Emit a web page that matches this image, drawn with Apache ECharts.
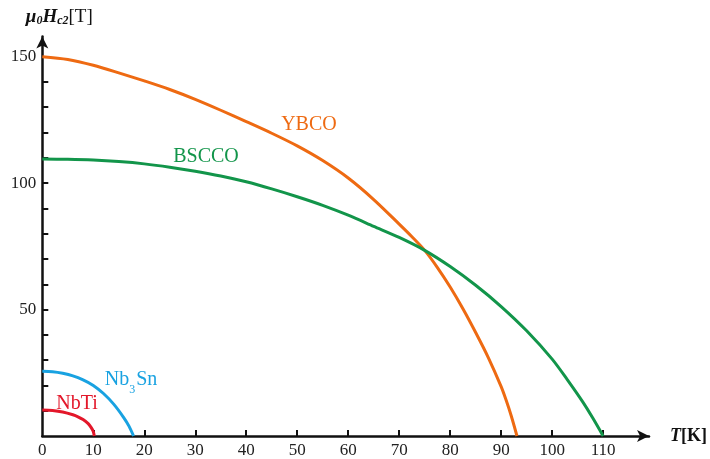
<!DOCTYPE html>
<html>
<head>
<meta charset="utf-8">
<script src="https://cdn.jsdelivr.net/npm/echarts@6/dist/echarts.min.js"></script>
<style>
html,body{margin:0;padding:0;background:#fff;}
#chart{width:710px;height:459px;}
</style>
</head>
<body>
<div id="chart"></div>
<script>
// ---- data (T in K, upper critical field in T) ----
const ybcoT  = [0, 5, 10, 15, 20, 25, 30, 35, 40, 45, 50, 55, 60, 65, 70, 72.5, 75, 77.5, 80, 82.5, 85, 87.5, 90, 91, 92, 93.1];
const ybcoH  = [150, 148.9, 146.6, 143.6, 140.4, 137.0, 133.1, 128.8, 124.3, 119.7, 114.7, 108.9, 102.0, 93.5, 83.8, 78.8, 73.4, 66.6, 58.9, 50.3, 40.9, 30.9, 19.5, 14.0, 7.8, 0];

const bsccoT = [0, 5, 10, 15, 20, 25, 30, 35, 40, 45, 50, 55, 60, 65, 70, 75, 80, 85, 90, 95, 100, 103, 106, 108, 110];
const bsccoH = [109.5, 109.4, 109.1, 108.5, 107.6, 106.3, 104.7, 102.8, 100.5, 97.7, 94.6, 91.2, 87.3, 82.9, 78.5, 73.4, 67.0, 59.6, 51.2, 41.6, 30.4, 22.2, 13.5, 7.0, 0];

const nb3snT = [0, 2, 4, 6, 8, 10, 12, 14, 16, 17, 17.9];
const nb3snH = [25.6, 25.4, 24.8, 23.8, 22.2, 20.0, 16.8, 12.6, 7.2, 3.9, 0];

const nbtiT  = [0, 2, 4, 6, 7, 8, 9, 9.6, 10, 10.2];
const nbtiH  = [10.3, 10.1, 9.5, 8.4, 7.6, 6.5, 4.9, 3.3, 1.8, 0];

const xTickValues  = [10, 20, 30, 40, 50, 60, 70, 80, 90, 100, 110];
const xLabelValues = [0, 10, 20, 30, 40, 50, 60, 70, 80, 90, 100, 110];
const yTickValues  = [10, 20, 30, 40, 50, 60, 70, 80, 90, 100, 110, 120, 130, 140, 150];
const yLabelValues = [50, 100, 150];

const seriesNames = ['YBCO', 'BSCCO', 'Nb3Sn', 'NbTi'];

function pairs(xs, ys) { return xs.map((x, i) => [x, ys[i]]); }

const SERIF = "'Liberation Serif', 'DejaVu Serif', serif";
const colors = {YBCO: '#EE6A12', BSCCO: '#12954A', Nb3Sn: '#19A2E1', NbTi: '#E3172A'};

function labelPoint(coord, text, color, rich) {
  return {
    symbol: 'circle', symbolSize: 1,
    itemStyle: {color: 'rgba(0,0,0,0)'},
    data: [{coord: coord}],
    label: {
      show: true, position: 'inside', formatter: text,
      color: color, fontFamily: SERIF, fontSize: 20,
      rich: rich || {}
    },
    silent: true,
    animation: false
  };
}

function lineSeries(name, data, markPoint) {
  return {
    name: name, type: 'line', data: data,
    showSymbol: false, smooth: 0.3,
    lineStyle: {color: colors[name], width: 3},
    itemStyle: {color: colors[name]},
    markPoint: markPoint,
    animation: false, silent: true
  };
}

const chart = echarts.init(document.getElementById('chart'), null, {renderer: 'canvas'});
const axisColor = '#111';

chart.setOption({
  backgroundColor: '#fff',
  animation: false,
  grid: {left: 42.3, right: 60.8, top: 36.4, bottom: 20.5, containLabel: false},
  xAxis: {
    type: 'value', min: 0, max: 119,
    name: '{t|T}{k|[K]}',
    nameLocation: 'end', nameGap: 21,
    nameTextStyle: {
      rich: {
        t: {fontFamily: SERIF, fontSize: 18, fontStyle: 'italic', fontWeight: 'bold', color: '#111'},
        k: {fontFamily: SERIF, fontSize: 18, fontWeight: 'bold', color: '#111'}
      }
    },
    axisLine: {show: true, onZero: false, symbol: ['none', 'arrow'], symbolSize: [9, 12],
      lineStyle: {color: axisColor, width: 2.5}},
    axisTick: {show: true, inside: true, length: 6, customValues: xTickValues,
      lineStyle: {color: axisColor, width: 2}},
    axisLabel: {show: true, customValues: xLabelValues, margin: 6,
      fontFamily: SERIF, fontSize: 17, color: '#222'},
    splitLine: {show: false}
  },
  yAxis: {
    type: 'value', min: 0, max: 158,
    name: '{mu|μ}{s0|0}{h|H}{sc|c2}{n|[T]}',
    nameLocation: 'end', nameGap: 9,
    nameTextStyle: {
      align: 'center',
      padding: [0, 0, 0, 34],
      rich: {
        mu: {fontFamily: SERIF, fontSize: 19, fontStyle: 'italic', fontWeight: 'bold', color: '#111', verticalAlign: 'top', lineHeight: 20},
        s0: {fontFamily: SERIF, fontSize: 12, fontStyle: 'italic', fontWeight: 'bold', color: '#111', verticalAlign: 'top', lineHeight: 12, padding: [8, 0, 0, 0]},
        h:  {fontFamily: SERIF, fontSize: 19, fontStyle: 'italic', fontWeight: 'bold', color: '#111', verticalAlign: 'top', lineHeight: 20},
        sc: {fontFamily: SERIF, fontSize: 12, fontStyle: 'italic', fontWeight: 'bold', color: '#111', verticalAlign: 'top', lineHeight: 12, padding: [8, 0, 0, 0]},
        n:  {fontFamily: SERIF, fontSize: 19, color: '#111', verticalAlign: 'top', lineHeight: 20}
      }
    },
    axisLine: {show: true, onZero: false, symbol: ['none', 'arrow'], symbolSize: [9, 12],
      lineStyle: {color: axisColor, width: 2.5}},
    axisTick: {show: true, inside: true, length: 6, customValues: yTickValues,
      lineStyle: {color: axisColor, width: 2}},
    axisLabel: {show: true, customValues: yLabelValues, margin: 6,
      fontFamily: SERIF, fontSize: 17, color: '#222'},
    splitLine: {show: false}
  },
  series: [
    lineSeries(seriesNames[0], pairs(ybcoT, ybcoH), labelPoint([52.3, 123.2], 'YBCO', colors.YBCO)),
    lineSeries(seriesNames[1], pairs(bsccoT, bsccoH), labelPoint([32.1, 110.6], 'BSCCO', colors.BSCCO)),
    lineSeries(seriesNames[2], pairs(nb3snT, nb3snH), labelPoint([17.4, 22.4], '{m|Nb}{s|3}{m|Sn}', colors.Nb3Sn, {
      m: {fontFamily: SERIF, fontSize: 20, color: colors.Nb3Sn, verticalAlign: 'top', lineHeight: 20},
      s: {fontFamily: SERIF, fontSize: 12, color: colors.Nb3Sn, verticalAlign: 'top', lineHeight: 12, padding: [14, 1, 0, 0]}
    })),
    lineSeries(seriesNames[3], pairs(nbtiT, nbtiH), labelPoint([6.8, 12.6], 'NbTi', colors.NbTi))
  ]
});
</script>
</body>
</html>
